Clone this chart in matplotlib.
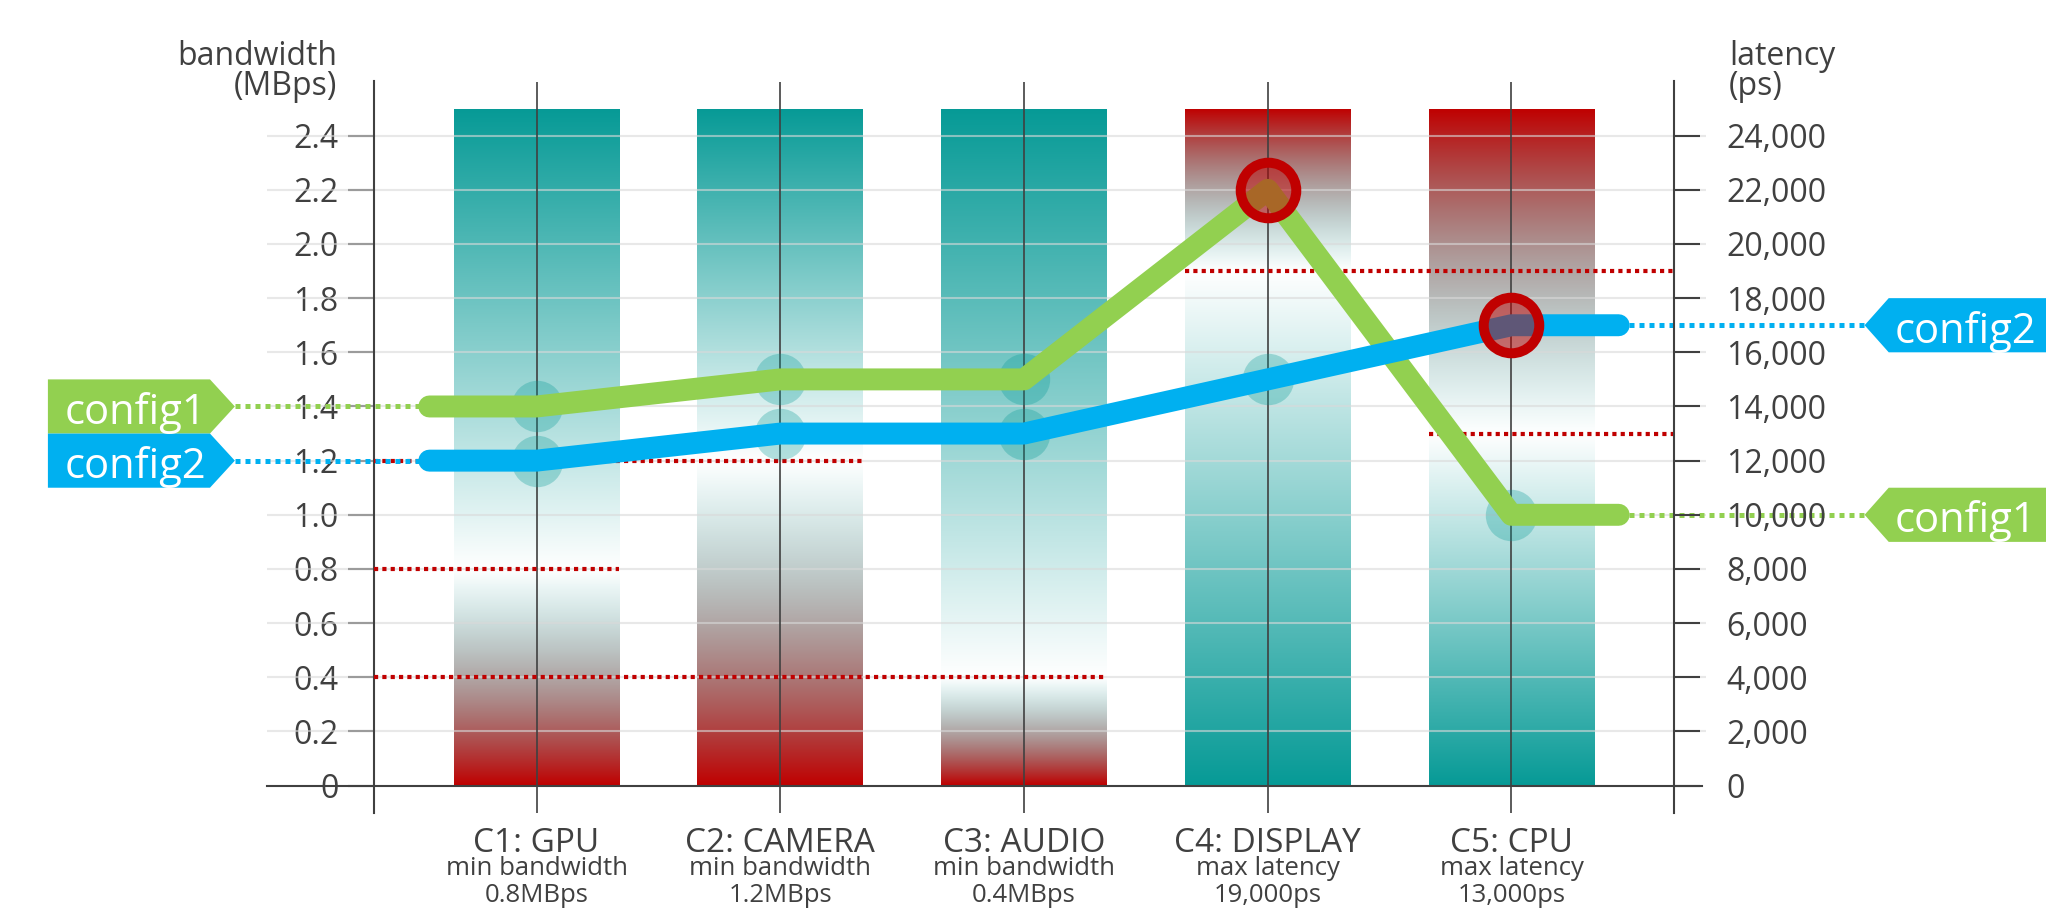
import numpy as np
import matplotlib.pyplot as plt
from matplotlib.patches import Polygon
from matplotlib.ticker import FuncFormatter
from matplotlib import transforms

plt.rcParams['font.family'] = ['Open Sans', 'DejaVu Sans']

# data
categories = ['C1: GPU', 'C2: CAMERA', 'C3: AUDIO', 'C4: DISPLAY', 'C5: CPU']
constraint_kind = ['min bandwidth', 'min bandwidth', 'min bandwidth', 'max latency', 'max latency']
constraint_text = ['0.8MBps', '1.2MBps', '0.4MBps', '19,000ps', '13,000ps']
bandwidth_limits = [0.8, 1.2, 0.4]      # MBps, C1-C3 (minimum)
latency_limits = [19000, 13000]         # ps, C4-C5 (maximum)
config1_bandwidth = [1.4, 1.5, 1.5]
config1_latency = [22000, 10000]
config2_bandwidth = [1.2, 1.3, 1.3]
config2_latency = [15000, 17000]
bar_top = [2.5, 2.5, 2.5, 2.5, 2.5]
bw_ticks = [0, 0.2, 0.4, 0.6, 0.8, 1.0, 1.2, 1.4, 1.6, 1.8, 2.0, 2.2, 2.4]
lat_ticks = [0, 2000, 4000, 6000, 8000, 10000, 12000, 14000, 16000, 18000, 20000, 22000, 24000]

ps_per_mbps = 10000  # 24,000ps on the right lines up with 2.4MBps on the left

TEAL = np.array([6, 154, 150]) / 255
RED = np.array([192, 0, 0]) / 255
GREEN = '#92d050'
BLUE = '#00b0f0'
DARK = '#404040'
RING = '#c00000'

x = np.arange(len(categories))
n_bw = len(bandwidth_limits)
limits = list(bandwidth_limits) + [v / ps_per_mbps for v in latency_limits]
cfg1 = list(config1_bandwidth) + [v / ps_per_mbps for v in config1_latency]
cfg2 = list(config2_bandwidth) + [v / ps_per_mbps for v in config2_latency]

fig = plt.figure(figsize=(20.46, 9.08), dpi=100)
ax = fig.add_axes([374 / 2046, 1 - 812.7 / 908, 1300 / 2046, 731.2 / 908])
xlim = (-0.667, 4.667)
ylim = (-0.1, 2.6)


def gradient(top, thr, kind, n=600):
    y = np.linspace(0, top, n)
    rgb = np.zeros((n, 3))
    a = np.zeros(n)
    for k, v in enumerate(y):
        if v < thr:
            t = (thr - v) / thr
            if kind == 'min':
                rgb[k] = TEAL * (1 - t) + RED * t
            else:
                rgb[k] = TEAL
        else:
            t = (v - thr) / (top - thr)
            if kind == 'min':
                rgb[k] = TEAL
            else:
                rgb[k] = TEAL * (1 - t) + RED * t
        a[k] = t
    img = rgb * a[:, None] + (1 - a[:, None])
    return np.repeat(img[:, None, :], 2, axis=1)


# gradient bars
bars = ax.bar(x, bar_top, width=0.68, color='none', linewidth=0)
for i, b in enumerate(bars):
    kind = 'min' if i < n_bw else 'max'
    x0, w, h = b.get_x(), b.get_width(), b.get_height()
    im = ax.imshow(gradient(h, limits[i], kind), extent=[x0, x0 + w, 0, h],
                   origin='lower', aspect='auto', zorder=1, interpolation='bilinear')
    im.set_clip_path(b)

# grid, axis line and category lines
ax.hlines(bw_ticks[1:], -1.106, 4.797, color='#d9d9d9', lw=1.5, alpha=0.6,
          zorder=2, clip_on=False)
ax.plot([-1.106, 4.78], [0, 0], color=DARK, lw=1.5, zorder=3, clip_on=False)
ax.vlines(x, ylim[0], ylim[1], color=DARK, lw=1.2, zorder=3)

# threshold lines
for i, lim in enumerate(limits):
    b = bars[i]
    if i < n_bw:
        xs = [xlim[0], b.get_x() + b.get_width()]
    else:
        xs = [b.get_x(), xlim[1]]
    ax.plot(xs, [lim, lim], color=RING, lw=3, dashes=(1, 1), zorder=4)

# pass markers (teal) under the lines
for vals in (cfg1, cfg2):
    for i, v in enumerate(vals):
        ok = v >= limits[i] if i < n_bw else v <= limits[i]
        if ok:
            ax.plot(i, v, 'o', ms=37, mfc=(6 / 255, 154 / 255, 150 / 255, 0.3),
                    mec='none', zorder=5)

# config lines with a short run-out each side
ext = 0.44
for vals, col in ((cfg1, GREEN), (cfg2, BLUE)):
    xs = [x[0] - ext] + list(x) + [x[-1] + ext]
    ys = [vals[0]] + list(vals) + [vals[-1]]
    ax.plot(xs, ys, color=col, lw=15.8, solid_capstyle='round',
            solid_joinstyle='round', zorder=6)

# failing points (red rings)
for vals in (cfg1, cfg2):
    for i, v in enumerate(vals):
        ok = v >= limits[i] if i < n_bw else v <= limits[i]
        if not ok:
            ax.plot(i, v, 'o', ms=40, mfc=(0.75, 0, 0, 0.5), mec=RING, mew=7.2, zorder=8)

# tags with dotted leaders
left_tag = (-2.005, -1.340, -1.238)
right_tag = (6.3, 5.548, 5.449)
for name, vals, col in (('config1', cfg1, GREEN), ('config2', cfg2, BLUE)):
    for side, (x0, x1, x2), v in (('l', left_tag, vals[0]), ('r', right_tag, vals[-1])):
        poly = Polygon([(x0, v - 0.1), (x1, v - 0.1), (x2, v), (x1, v + 0.1), (x0, v + 0.1)],
                       closed=True, fc=col, ec='none', zorder=7, clip_on=False)
        ax.add_patch(poly)
        if side == 'l':
            ax.plot([x2, x[0] - ext], [v, v], color=col, lw=3.6, dashes=(1, 1),
                    zorder=5, clip_on=False)
            ax.text(-1.936, v - 0.065, name, color='white', fontsize=30,
                    ha='left', va='baseline', zorder=8, clip_on=False)
        else:
            ax.plot([x[-1] + ext, x2], [v, v], color=col, lw=3.6, dashes=(1, 1),
                    zorder=5, clip_on=False)
            ax.text(5.573, v - 0.065, name, color='white', fontsize=30,
                    ha='left', va='baseline', zorder=8, clip_on=False)

ax.set_xlim(*xlim)
ax.set_ylim(*ylim)
ax.set_xticks([])
ax.set_yticks(bw_ticks)
ax.yaxis.set_major_formatter(FuncFormatter(lambda v, p: '0' if v == 0 else f'{v:.1f}'))
ax.tick_params(axis='y', direction='out', length=18.7, width=1.5, color=DARK,
               labelsize=23, labelcolor=DARK, pad=7)
for s in ('top', 'bottom', 'right'):
    ax.spines[s].set_visible(False)
ax.spines['left'].set_color(DARK)
ax.spines['left'].set_linewidth(1.5)

ax2 = ax.twinx()
ax2.set_ylim(ylim[0] * ps_per_mbps, ylim[1] * ps_per_mbps)
ax2.set_yticks(lat_ticks)
ax2.yaxis.set_major_formatter(FuncFormatter(lambda v, p: f'{v:,.0f}'))
ax2.tick_params(axis='y', direction='out', length=18.7, width=1.5, color=DARK,
                labelsize=23, labelcolor=DARK, pad=19)
for s in ('top', 'bottom', 'left'):
    ax2.spines[s].set_visible(False)
ax2.spines['right'].set_color(DARK)
ax2.spines['right'].set_linewidth(1.5)

# axis titles
fig.text(337 / 2046, 1 - 65 / 908, 'bandwidth', ha='right', va='baseline',
         fontsize=23, color=DARK)
fig.text(337 / 2046, 1 - 95 / 908, '(MBps)', ha='right', va='baseline',
         fontsize=23, color=DARK)
fig.text(1729 / 2046, 1 - 65 / 908, 'latency', ha='left', va='baseline',
         fontsize=23, color=DARK)
fig.text(1729 / 2046, 1 - 95 / 908, '(ps)', ha='left', va='baseline',
         fontsize=23, color=DARK)

# category labels
tr = transforms.blended_transform_factory(ax.transData, fig.transFigure)
for i in range(len(categories)):
    ax.text(i, 1 - 852 / 908, categories[i], transform=tr, ha='center',
            va='baseline', fontsize=24, color=DARK, clip_on=False)
    ax.text(i, 1 - 875 / 908, constraint_kind[i], transform=tr, ha='center',
            va='baseline', fontsize=18.5, color=DARK, clip_on=False)
    ax.text(i, 1 - 902 / 908, constraint_text[i], transform=tr, ha='center',
            va='baseline', fontsize=18.5, color=DARK, clip_on=False)

fig.savefig('out.png', dpi=100)
